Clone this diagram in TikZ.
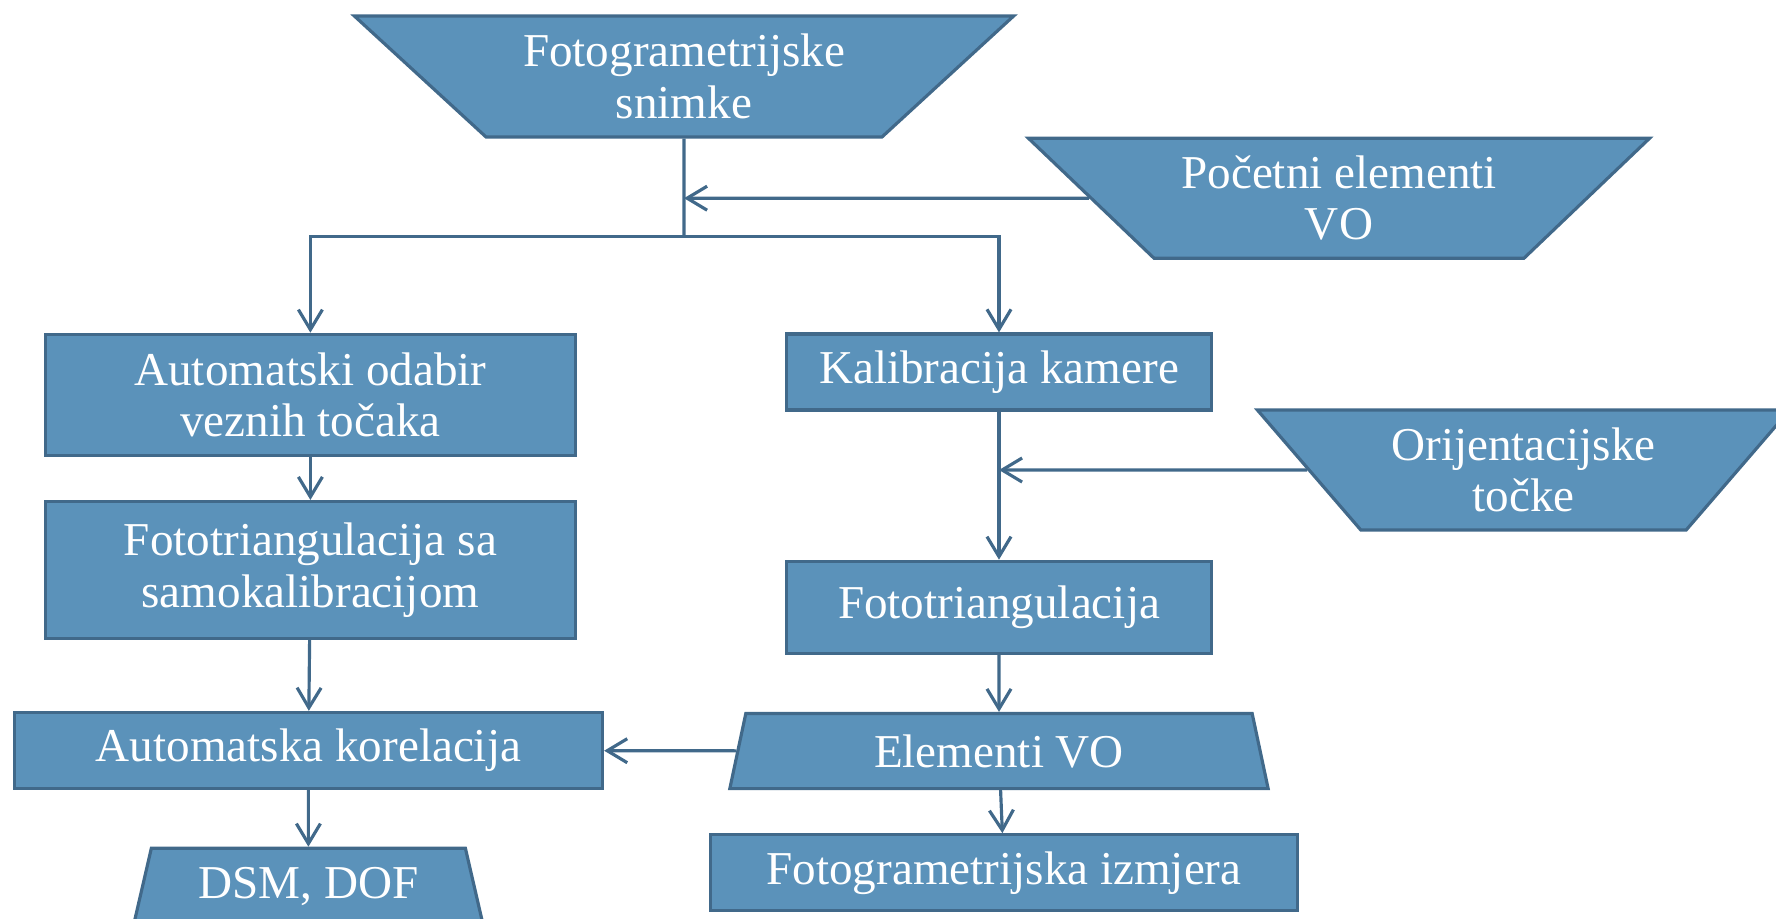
\documentclass[tikz,border=0pt]{standalone}
\usepackage{fontspec}
\setmainfont{Liberation Serif}
\usepackage{tikz}
\usetikzlibrary{shapes, arrows.meta, positioning}
\definecolor{boxfill}{RGB}{91,146,186}
\definecolor{boxline}{RGB}{65,105,138}

\begin{document}
\begin{tikzpicture}[x=0.01cm, y=-0.01cm, node distance=0.45cm and 0.5cm,
	font=\fontsize{13.4}{14.6}\selectfont,
	proc/.style 2 args={draw=boxline, fill=boxfill, line width=0.9pt, text=white, align=center, inner sep=2pt, minimum width=#1, minimum height=#2},
	data/.style n args={3}{trapezium, trapezium stretches body, trapezium left angle=#3, trapezium right angle=#3, draw=boxline, fill=boxfill, line width=0.9pt, text=white, align=center, inner sep=2pt, minimum width=#1, minimum height=#2},
	flip/.style={shape border rotate=180},
	>={Straight Barb[length=2mm,width=2.4mm]},
	line/.style={draw=boxline, line width=0.9pt}]
	\useasboundingbox (0,0) rectangle (1776,918);
	\node[data={6.59cm}{1.21cm}{36.8}, flip] (snimke) at (684,76.5) {Fotogrametrijske\\snimke};
	\node[data={6.21cm}{1.2cm}{38.2}, flip] (pocetni) at (1339,198.2) {Početni elementi\\VO};
	\node[proc={5.3cm}{1.21cm}] (odabir) at (310.4,394.8) {Automatski odabir\\veznih točaka};
	\node[proc={5.3cm}{1.37cm}, below=0.43cm of odabir] (samokal) {Fototriangulacija sa\\samokalibracijom};
	\node[proc={5.88cm}{0.76cm}, below=0.706cm of samokal, xshift=-0.02cm] (korel) {Automatska korelacija};
	\node[data={3.49cm}{0.76cm}{71.5}, below=0.566cm of korel] (dsm) {DSM, DOF};
	\node[proc={4.24cm}{0.76cm}] (kalib) at (999,372) {Kalibracija kamere};
	\node[data={5.32cm}{1.2cm}{43.6}, flip] (orij) at (1523.5,470) {Orijentacijske\\točke};
	\node[proc={4.24cm}{0.92cm}, below=1.48cm of kalib] (fototri) {Fototriangulacija};
	\node[data={5.38cm}{0.75cm}{71.4}, below=0.57cm of fototri] (elemvo) {Elementi VO};
	\node[proc={5.87cm}{0.76cm}, below=0.43cm of elemvo, xshift=0.05cm] (izmjera) {Fotogrametrijska izmjera};
	\coordinate[below=0.975cm of snimke.south] (split);
	\draw[line] (snimke) -- (split);
	\draw[line, ->] (split) -| (odabir);
	\draw[line, ->] (split) -| (kalib);
	\draw[line, ->] (pocetni) -- (snimke.south |- pocetni);
	\draw[line, ->] (orij) -- (kalib.south |- orij);
	\foreach \from/\to in {odabir/samokal, samokal/korel, korel/dsm, kalib/fototri, fototri/elemvo, elemvo/izmjera}
		\draw[line, ->] (\from) -- (\to);
	\draw[line, ->] (elemvo) -- (korel);
\end{tikzpicture}
\end{document}
